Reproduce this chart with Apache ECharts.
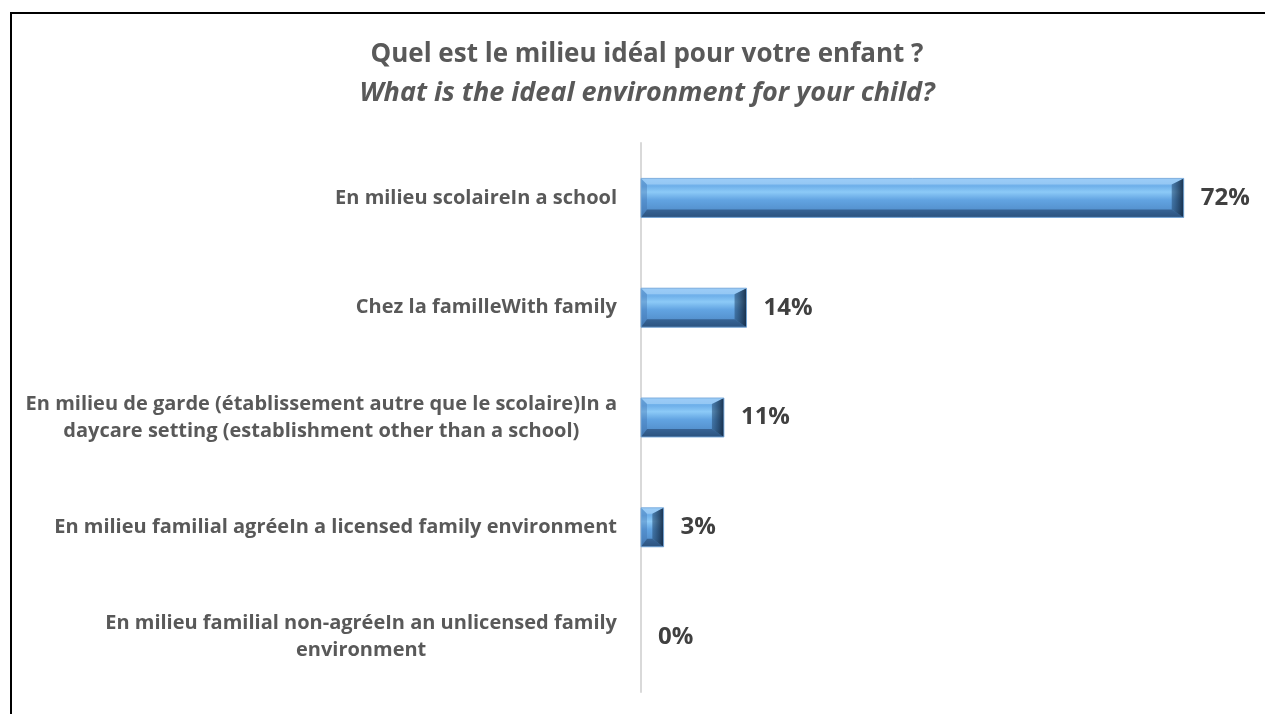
<!DOCTYPE html>
<html>
<head>
<meta charset="utf-8">
<script src="https://cdn.jsdelivr.net/npm/echarts@6/dist/echarts.min.js"></script>
<style>
html,body{margin:0;padding:0;background:#fff;}
#chart{width:1265px;height:714px;}
</style>
</head>
<body>
<div id="chart"></div>
<script>
var titleLines = ["Quel est le milieu idéal pour votre enfant ?", "What is the ideal environment for your child?"];
var categories = [
  "En milieu scolaireIn a school",
  "Chez la familleWith family",
  "En milieu de garde (établissement autre que le scolaire)In a\ndaycare setting (establishment other than a school)",
  "En milieu familial agréeIn a licensed family environment",
  "En milieu familial non-agréeIn an unlicensed family\nenvironment"
];
var values = [72, 14, 11, 3, 0];

var BAR_H = 39;
var chart = echarts.init(document.getElementById('chart'));
var font = "'Open Sans', sans-serif";

function bevel(params, api) {
  var v = api.value(0), i = api.value(1);
  if (!v) return null;
  var p0 = api.coord([0, i]), p1 = api.coord([v, i]);
  var x0 = p0[0], x1 = p1[0], yc = p0[1];
  var y0 = yc - BAR_H / 2, y1 = yc + BAR_H / 2;
  var w = x1 - x0;
  var bl = Math.min(6, w / 2), br = Math.min(12, w / 2), bt = 6, bb = 8;
  return {
    type: 'group',
    children: [
      {type: 'polygon', shape: {points: [[x0, y0], [x1, y0], [x1 - br, y0 + bt], [x0 + bl, y0 + bt]]},
        style: {fill: 'rgba(190,225,255,0.45)'}},
      {type: 'polygon', shape: {points: [[x0, y1], [x1, y1], [x1 - br, y1 - bb], [x0 + bl, y1 - bb]]},
        style: {fill: 'rgba(20,45,80,0.45)'}},
      {type: 'polygon', shape: {points: [[x1, y0], [x1, y1], [x1 - br, y1 - bb], [x1 - br, y0 + bt]]},
        style: {fill: new echarts.graphic.LinearGradient(0, 0, 1, 0, [
          {offset: 0, color: 'rgba(40,80,120,0.55)'},
          {offset: 1, color: 'rgba(15,35,60,0.9)'}
        ])}},
      {type: 'polygon', shape: {points: [[x0, y0], [x0, y1], [x0 + bl, y1 - bb], [x0 + bl, y0 + bt]]},
        style: {fill: 'rgba(60,110,170,0.35)'}},
      {type: 'rect', shape: {x: x0, y: y0, width: w, height: BAR_H},
        style: {fill: 'none', stroke: 'rgba(120,170,220,0.9)', lineWidth: 1}}
    ]
  };
}

chart.setOption({
  animation: false,
  backgroundColor: '#fff',
  title: {
    text: '{a|' + titleLines[0] + '}\n{b|' + titleLines[1] + '}',
    left: 642, top: 30, textAlign: 'center',
    textStyle: {
      rich: {
        a: {fontFamily: font, fontWeight: 'bold', fontSize: 26, color: '#595959', lineHeight: 39},
        b: {fontFamily: font, fontWeight: 'bold', fontStyle: 'italic', fontSize: 27, color: '#595959', lineHeight: 39}
      }
    }
  },
  graphic: [
    {type: 'line', shape: {x1: 11, y1: 12, x2: 11, y2: 714}, style: {stroke: '#000', lineWidth: 2}, z: 100},
    {type: 'line', shape: {x1: 10, y1: 13, x2: 1265, y2: 13}, style: {stroke: '#000', lineWidth: 2}, z: 100}
  ],
  grid: {left: 641, right: 21, top: 143, bottom: 22, containLabel: false},
  xAxis: {
    type: 'value', min: 0, max: 80, show: false
  },
  yAxis: {
    type: 'category', data: categories, inverse: true,
    axisLine: {show: true, lineStyle: {color: '#d9d9d9', width: 2}},
    axisTick: {show: false},
    axisLabel: {
      margin: 24, align: 'right',
      formatter: function (v) {
        return v.split('\n').map(function (s) { return '{c|' + s + '}'; }).join('\n');
      },
      rich: {
        c: {fontFamily: font, fontWeight: 'bold', fontSize: 20, color: '#595959', lineHeight: 27, align: 'center'}
      }
    }
  },
  series: [{
    type: 'bar', data: values, barWidth: BAR_H, z: 2,
    itemStyle: {
      color: new echarts.graphic.LinearGradient(0, 0, 0, 1, [
        {offset: 0, color: '#7fbdf0'},
        {offset: 0.2, color: '#6fb0ea'},
        {offset: 0.35, color: '#8ccaf7'},
        {offset: 0.55, color: '#62a4e2'},
        {offset: 0.8, color: '#5592cf'},
        {offset: 1, color: '#3f73a6'}
      ]),
      borderWidth: 0
    },
    label: {
      show: true, position: 'right', distance: 17,
      formatter: '{c}%', fontFamily: font, fontWeight: 'bold', fontSize: 24, color: '#404040'
    }
  }, {
    type: 'custom', z: 3, silent: true,
    data: values.map(function (v, i) { return [v, i]; }),
    encode: {x: 0, y: 1},
    renderItem: bevel
  }]
});
</script>
</body>
</html>
